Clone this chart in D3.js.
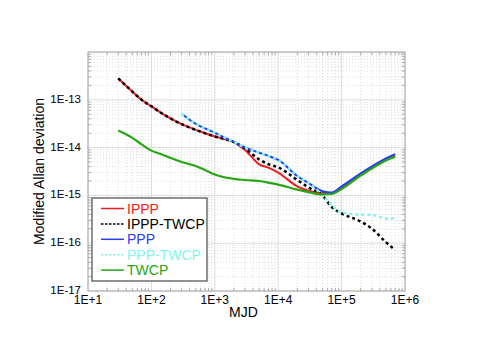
<!DOCTYPE html>
<html>
<head>
<meta charset="utf-8">
<script src="https://cdn.jsdelivr.net/npm/d3@7"></script>
<style>
  body { margin: 0; background: #fff; }
  svg { display: block; }
</style>
</head>
<body>
<div id="chart"></div>
<script>
// averaging times (x) and deviations
const tauIPPP = [30, 50, 70, 100, 150, 200, 300, 500, 700, 1000, 2000, 3000, 5000, 7000, 1e4, 2e4, 3e4, 5e4, 7e4, 1e5, 2e5, 3e5, 5e5, 7e5]
const ippp = [2.8e-13, 1.49e-13, 1.0e-13, 7.3e-14, 5.1e-14, 4.07e-14, 3.1e-14, 2.35e-14, 2.0e-14, 1.71e-14, 1.3e-14, 8.95e-15, 4.47e-15, 3.8e-15, 3.0e-15, 1.55e-15, 1.26e-15, 1.12e-15, 1.12e-15, 1.43e-15, 2.75e-15, 3.85e-15, 5.7e-15, 6.9e-15]
const ipppTwcp = [2.8e-13, 1.49e-13, 1.0e-13, 7.3e-14, 5.1e-14, 4.07e-14, 3.1e-14, 2.35e-14, 2.0e-14, 1.71e-14, 1.3e-14, 9.6e-15, 5.66e-15, 4.5e-15, 3.86e-15, 2.1e-15, 1.47e-15, 1.0e-15, 5.7e-16, 4.2e-16, 2.84e-16, 2.02e-16, 1.05e-16, 7.2e-17]

const tauPPP = [300, 500, 700, 1000, 2000, 3000, 5000, 7000, 1e4, 2e4, 3e4, 5e4, 7e4, 1e5, 2e5, 3e5, 5e5, 7e5]
const ppp = [5.1e-14, 3.14e-14, 2.53e-14, 2.03e-14, 1.32e-14, 1.01e-14, 7.8e-15, 6.7e-15, 5.52e-15, 2.55e-15, 1.82e-15, 1.22e-15, 1.15e-15, 1.54e-15, 2.88e-15, 4.04e-15, 5.94e-15, 7.28e-15]
const pppTwcp = [5.1e-14, 3.14e-14, 2.53e-14, 2.03e-14, 1.32e-14, 1.01e-14, 7.8e-15, 6.7e-15, 5.52e-15, 2.55e-15, 1.82e-15, 1.02e-15, 6.3e-16, 4.39e-16, 3.98e-16, 3.9e-16, 3.3e-16, 3.3e-16]

const tauTWCP = tauIPPP
const twcp = [2.27e-14, 1.6e-14, 1.17e-14, 8.65e-15, 7.1e-15, 6.1e-15, 5.0e-15, 4.13e-15, 3.4e-15, 2.74e-15, 2.21e-15, 2.1e-15, 2.0e-15, 1.85e-15, 1.68e-15, 1.32e-15, 1.17e-15, 1.05e-15, 1.07e-15, 1.36e-15, 2.61e-15, 3.66e-15, 5.4e-15, 6.47e-15]

const xTicks = [1e1, 1e2, 1e3, 1e4, 1e5, 1e6]
const xTickLabels = ['1E+1', '1E+2', '1E+3', '1E+4', '1E+5', '1E+6']
const yTicks = [1e-17, 1e-16, 1e-15, 1e-14, 1e-13]
const yTickLabels = ['1E-17', '1E-16', '1E-15', '1E-14', '1E-13']

const series = [
  { name: 'IPPP', x: tauIPPP, y: ippp, color: '#ee1c1c', dash: null, width: 2 },
  { name: 'IPPP-TWCP', x: tauIPPP, y: ipppTwcp, color: '#000000', dash: '3,3', width: 2.5 },
  { name: 'PPP', x: tauPPP, y: ppp, color: '#2a3cf0', dash: null, width: 2 },
  { name: 'PPP-TWCP', x: tauPPP, y: pppTwcp, color: '#7ff5ee', dash: '3,3', width: 2.5 },
  { name: 'TWCP', x: tauTWCP, y: twcp, color: '#26a614', dash: null, width: 2.2 }
]

const width = 491
const height = 347
const margin = { top: 52, right: 86, bottom: 56, left: 88 }

const x = d3.scaleLog().domain([1e1, 1e6]).range([margin.left, width - margin.right])
const y = d3.scaleLog().domain([1e-17, 1e-12]).range([height - margin.bottom, margin.top])

const svg = d3.select('#chart')
  .append('svg')
  .attr('width', width)
  .attr('height', height)
  .attr('font-family', 'Liberation Sans, Arial, sans-serif')

// minor and major positions per decade
const minorX = []
for (let e = 1; e < 6; e++) for (let m = 2; m <= 9; m++) minorX.push(m * Math.pow(10, e))
const minorY = []
for (let e = -17; e < -12; e++) for (let m = 2; m <= 9; m++) minorY.push(m * Math.pow(10, e))

const grid = svg.append('g')
grid.selectAll('line.mx')
  .data(minorX)
  .join('line')
  .attr('x1', d => x(d)).attr('x2', d => x(d))
  .attr('y1', y.range()[1]).attr('y2', y.range()[0])
  .attr('stroke', '#d4d4d4').attr('stroke-width', 0.8).attr('stroke-dasharray', '1,2')
grid.selectAll('line.my')
  .data(minorY)
  .join('line')
  .attr('y1', d => y(d)).attr('y2', d => y(d))
  .attr('x1', x.range()[0]).attr('x2', x.range()[1])
  .attr('stroke', '#d4d4d4').attr('stroke-width', 0.8).attr('stroke-dasharray', '1,2')
grid.selectAll('line.gx')
  .data(xTicks)
  .join('line')
  .attr('x1', d => x(d)).attr('x2', d => x(d))
  .attr('y1', y.range()[1]).attr('y2', y.range()[0])
  .attr('stroke', '#dcdcdc').attr('stroke-width', 1)
grid.selectAll('line.gy')
  .data(yTicks.concat([1e-12]))
  .join('line')
  .attr('y1', d => y(d)).attr('y2', d => y(d))
  .attr('x1', x.range()[0]).attr('x2', x.range()[1])
  .attr('stroke', '#dcdcdc').attr('stroke-width', 1)

// inward tick marks on all four sides
const tk = svg.append('g').attr('stroke', '#9a9a9a').attr('stroke-width', 0.8)
const x0 = x.range()[0], x1 = x.range()[1], y0 = y.range()[0], y1 = y.range()[1]
minorX.forEach(d => {
  tk.append('line').attr('x1', x(d)).attr('x2', x(d)).attr('y1', y0).attr('y2', y0 - 3)
  tk.append('line').attr('x1', x(d)).attr('x2', x(d)).attr('y1', y1).attr('y2', y1 + 3)
})
minorY.forEach(d => {
  tk.append('line').attr('y1', y(d)).attr('y2', y(d)).attr('x1', x0).attr('x2', x0 + 3)
  tk.append('line').attr('y1', y(d)).attr('y2', y(d)).attr('x1', x1).attr('x2', x1 - 3)
})

svg.append('rect')
  .attr('x', x0).attr('y', y1)
  .attr('width', x1 - x0).attr('height', y0 - y1)
  .attr('fill', 'none').attr('stroke', '#a8a8a8').attr('stroke-width', 1)

// tick labels
svg.append('g')
  .attr('font-size', 12)
  .attr('text-anchor', 'middle')
  .selectAll('text')
  .data(xTicks)
  .join('text')
  .attr('x', d => x(d))
  .attr('y', y0 + 12.5)
  .text((d, i) => xTickLabels[i])

svg.append('g')
  .attr('font-size', 11.5)
  .attr('text-anchor', 'end')
  .selectAll('text')
  .data(yTicks)
  .join('text')
  .attr('x', x0 - 7)
  .attr('y', d => y(d) - 1)
  .attr('dy', '0.35em')
  .text((d, i) => yTickLabels[i])

svg.append('text')
  .attr('x', (x0 + x1) / 2 - 3)
  .attr('y', 317)
  .attr('text-anchor', 'middle')
  .attr('font-size', 14)
  .text('MJD')

svg.append('text')
  .attr('transform', `translate(44,${(y0 + y1) / 2}) rotate(-90)`)
  .attr('text-anchor', 'middle')
  .attr('font-size', 14)
  .text('Modified Allan deviation')

// curves
const line = d3.line()
  .x(d => x(d[0]))
  .y(d => y(d[1]))
  .curve(d3.curveMonotoneX)

svg.append('g')
  .attr('fill', 'none')
  .selectAll('path')
  .data(series)
  .join('path')
  .attr('stroke', d => d.color)
  .attr('stroke-width', d => d.width)
  .attr('stroke-dasharray', d => d.dash)
  .attr('stroke-linejoin', 'round')
  .attr('d', d => line(d.x.map((v, i) => [v, d.y[i]])))

// legend
const lg = svg.append('g')
lg.append('rect')
  .attr('x', 92).attr('y', 198)
  .attr('width', 115).attr('height', 83)
  .attr('fill', '#fff').attr('stroke', '#4a4a4a').attr('stroke-width', 1.2)

const item = lg.selectAll('g.item')
  .data(series)
  .join('g')
  .attr('transform', (d, i) => `translate(101,${208.5 + i * 15.4})`)
item.append('line')
  .attr('x1', 0).attr('x2', 23)
  .attr('stroke', d => d.color)
  .attr('stroke-width', 1.5)
  .attr('stroke-dasharray', d => d.dash ? '2.5,1.5' : null)
item.append('text')
  .attr('x', 26)
  .attr('dy', '0.36em')
  .attr('font-size', 14)
  .attr('fill', d => d.color)
  .text(d => d.name)
</script>
</body>
</html>
